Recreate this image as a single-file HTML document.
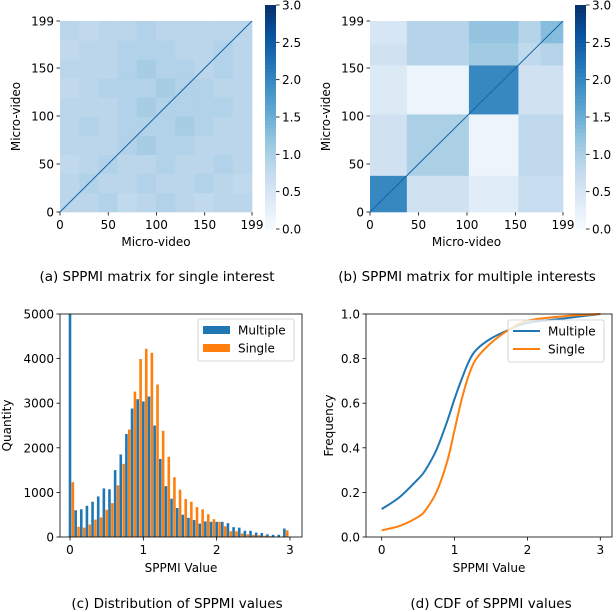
<!DOCTYPE html>
<html><head><meta charset="utf-8"><style>
body{margin:0;background:#fff}
svg{display:block;font-family:"DejaVu Sans","Liberation Sans",sans-serif}
</style></head><body>
<svg id="s" width="616" height="612" viewBox="0 0 616 612"></svg>
<script>
// ---- data ----
const heatAVals = [ // 10x10 coarse blocks, row 0 = bottom
[0.85,0.85,0.95,0.8,0.85,0.95,0.85,0.8,0.85,0.85],
[0.85,0.95,0.85,0.85,0.95,0.85,0.85,0.95,0.85,0.8],
[0.8,0.85,0.95,0.85,0.85,0.95,0.85,0.85,0.95,0.85],
[0.85,0.85,0.85,0.95,1.05,0.95,0.95,0.85,0.85,0.85],
[0.85,0.95,0.85,0.95,0.95,0.95,1.05,0.95,0.85,0.85],
[0.85,0.85,0.85,0.95,1.05,0.95,0.95,0.95,0.95,0.85],
[0.8,0.85,0.95,0.95,0.95,1.05,0.95,0.95,0.85,0.85],
[0.85,0.85,0.85,0.95,1.05,0.95,0.95,0.85,0.95,0.85],
[0.8,0.85,0.85,0.95,0.95,0.95,0.85,0.85,0.95,0.85],
[0.85,0.8,0.85,0.85,0.95,0.85,0.85,0.85,0.85,0.85]];
const heatBBounds = [0,38,102,153,176,199];
const heatBVals = [ // row = y block (bottom up), col = x block
[2.0,0.6,0.35,0.7,0.7],
[0.6,1.0,0.15,0.8,0.8],
[0.4,0.15,2.0,0.6,0.6],
[0.6,0.9,1.1,0.8,0.9],
[0.5,0.9,1.2,0.9,1.3]];
const histMultiple = [9000,600,620,700,790,910,1090,1070,1500,1850,2310,2880,3090,3040,3150,2500,1750,1140,860,650,500,430,380,300,350,340,340,340,310,220,210,140,140,100,90,60,50,50,190];
const histSingle = [1230,230,210,280,390,440,610,760,1160,1640,2410,3260,3990,4220,4130,3420,2380,1800,1340,1060,850,790,670,620,510,400,340,240,130,130,80,60,50,40,30,20,10,10,150];
const cdfX = [0,0.25,0.5,0.6,0.75,0.9,1.0,1.1,1.2,1.3,1.5,1.75,2,2.5,3];
const cdfMultiple = [0.125,0.18,0.26,0.30,0.39,0.52,0.62,0.71,0.79,0.84,0.89,0.93,0.96,0.98,1.0];
const cdfSingle = [0.03,0.05,0.09,0.12,0.20,0.34,0.48,0.62,0.73,0.80,0.87,0.93,0.97,0.99,1.0];
const heatTicks = [0,50,100,150,199];
const cbTicks = [0,0.5,1,1.5,2,2.5,3];
const histYTicks = [0,1000,2000,3000,4000,5000];
const xTicks3 = [0,1,2,3];
const cdfYTicks = [0,0.2,0.4,0.6,0.8,1.0];

const S=document.getElementById('s'),NS='http://www.w3.org/2000/svg';
function el(t,a,p){const e=document.createElementNS(NS,t);for(const k in a)e.setAttribute(k,a[k]);(p||S).appendChild(e);return e;}
function txt(x,y,s,a,p){const e=el('text',Object.assign({x:x,y:y,'font-size':12,fill:'#000'},a),p);e.textContent=s;return e;}
const stops=[[0,[247,251,255]],[0.125,[222,235,247]],[0.25,[198,219,239]],[0.375,[158,202,225]],[0.5,[107,174,214]],[0.625,[66,146,198]],[0.75,[33,113,181]],[0.875,[8,81,156]],[1,[8,48,107]]];
function blues(v){let t=Math.max(0,Math.min(1,v/3));for(let i=1;i<stops.length;i++){if(t<=stops[i][0]){const a=stops[i-1],b=stops[i],f=(t-a[0])/(b[0]-a[0]);return 'rgb('+a[1].map((c,j)=>Math.round(c+(b[1][j]-c)*f)).join(',')+')';}}return 'rgb(8,48,107)';}

function heatFrame(x0,y0,w,h,cbx,name,caption){
  const g=el('g',{});
  
  
  const sx=v=>x0+v/199*w, sy=v=>y0+h-v/199*h;
  heatTicks.forEach(t=>{
    el('line',{x1:sx(t),x2:sx(t),y1:y0+h,y2:y0+h+3.5,stroke:'#000','stroke-width':0.8},g);
    txt(sx(t),y0+h+17,String(t),{'text-anchor':'middle'},g);
    el('line',{x1:x0-3.5,x2:x0,y1:sy(t),y2:sy(t),stroke:'#000','stroke-width':0.8},g);
    txt(x0-6,sy(t)+4.5,String(t),{'text-anchor':'end'},g);
  });
  const xl=txt(x0+w/2,y0+h+34,'Micro-video',{'text-anchor':'middle'},g);
  
  const yl=txt(0,0,'Micro-video',{'text-anchor':'middle',transform:'translate('+(x0-40)+','+(y0+h/2)+') rotate(-90)'},g);
  
  const cy0=5,cy1=229,n=60;
  for(let i=0;i<n;i++){const v=(i+0.5)/n*3;const r=el('rect',{x:cbx,y:cy1-(i+1)/n*(cy1-cy0),width:11,height:(cy1-cy0)/n+0.5,fill:blues(v)},g);
    }
  cbTicks.forEach(t=>{const y=cy1-t/3*(cy1-cy0);
    el('line',{x1:cbx+11,x2:cbx+14.5,y1:y,y2:y,stroke:'#000','stroke-width':0.8},g);
    txt(cbx+17,y+4.5,t.toFixed(1),{},g);});
  const c=txt(x0+97,281,caption,{'text-anchor':'middle','font-size':13.5},g);
  
  return {g,sx,sy};
}
(function(){
  const x0=60,y0=21,w=192,h=191;
  const f=heatFrame(x0,y0,w,h,265,'heatmap-single','(a) SPPMI matrix for single interest');
  const n=heatAVals.length;
  heatAVals.forEach((row,ri)=>row.forEach((v,ci)=>{
    const r=el('rect',{x:f.sx(ci*199/n),y:f.sy((ri+1)*199/n),width:w/n+0.3,height:h/n+0.3,fill:blues(v)},f.g);
    
  }));
  const d=el('line',{x1:f.sx(0),y1:f.sy(0),x2:f.sx(199),y2:f.sy(199),stroke:blues(2.4),'stroke-width':1},f.g);
  
})();
(function(){
  const x0=370,y0=21,w=193,h=191;
  const f=heatFrame(x0,y0,w,h,575,'heatmap-multiple','(b) SPPMI matrix for multiple interests');
  heatBVals.forEach((row,ri)=>row.forEach((v,ci)=>{
    const xa=heatBBounds[ci],xb=heatBBounds[ci+1],ya=heatBBounds[ri],yb=heatBBounds[ri+1];
    const r=el('rect',{x:f.sx(xa),y:f.sy(yb),width:f.sx(xb)-f.sx(xa)+0.3,height:f.sy(ya)-f.sy(yb)+0.3,fill:blues(v)},f.g);
    
  }));
  const d=el('line',{x1:f.sx(0),y1:f.sy(0),x2:f.sx(199),y2:f.sy(199),stroke:blues(2.4),'stroke-width':1},f.g);
  
})();

function axesFrame(name){const g=el('g',{});return g;}
function legend(g,x,y,kind){
  const lg=el('g',{},g);
  
  
  el('rect',{x:x,y:y,width:96,height:42,rx:2,fill:'rgba(255,255,255,0.8)',stroke:'#ccc','stroke-width':0.8},lg);
  [['Multiple','#1f77b4'],['Single','#ff7f0e']].forEach((e,i)=>{
    const eg=el('g',{},lg);
    
    
    const yy=y+11+i*18;
    if(kind==='bar') el('rect',{x:x+5,y:yy-4,width:27,height:8,fill:e[1]},eg);
    else el('line',{x1:x+5,x2:x+32,y1:yy,y2:yy,stroke:e[1],'stroke-width':2},eg);
    txt(x+40,yy+4.5,e[0],{},eg);
  });
}
(function(){
  const L=60,R=302,T=314,B=537;
  const g=axesFrame('histogram-chart');
  const sx=v=>70+v/3*220, sy=v=>B-v/5000*(B-T);
  const nb=histMultiple.length,bw=3/nb;
  const cp=el('clipPath',{id:'cc'},g);el('rect',{x:L,y:T,width:R-L,height:B-T},cp);
  const bars=el('g',{'clip-path':'url(#cc)'},g);
  const pw=(sx(bw)-sx(0))*0.46;
  histMultiple.forEach((v,i)=>{const x=sx(i*bw)-pw/2;
    const r=el('rect',{x:x,y:sy(v),width:pw,height:B-sy(v),fill:'#1f77b4'},bars);
    });
  histSingle.forEach((v,i)=>{const x=sx(i*bw)+pw/2+0.3;
    const r=el('rect',{x:x,y:sy(v),width:pw,height:B-sy(v),fill:'#ff7f0e'},bars);
    });
  el('rect',{x:L,y:T,width:R-L,height:B-T,fill:'none',stroke:'#000','stroke-width':0.8},g);
  xTicks3.forEach(t=>{el('line',{x1:sx(t),x2:sx(t),y1:B,y2:B+3.5,stroke:'#000','stroke-width':0.8},g);txt(sx(t),B+17,String(t),{'text-anchor':'middle'},g);});
  histYTicks.forEach(t=>{el('line',{x1:L-3.5,x2:L,y1:sy(t),y2:sy(t),stroke:'#000','stroke-width':0.8},g);txt(L-6,sy(t)+4.5,String(t),{'text-anchor':'end'},g);});
  txt((L+R)/2,572,'SPPMI Value',{'text-anchor':'middle'},g);
  txt(0,0,'Quantity',{'text-anchor':'middle',transform:'translate(11,'+((T+B)/2)+') rotate(-90)'},g);
  legend(g,198,319,'bar');
  txt(177,608,'(c) Distribution of SPPMI values',{'text-anchor':'middle','font-size':13.5},g);
})();
(function(){
  const L=366,R=612,T=314,B=537;
  const g=axesFrame('cdf-chart');
  const sx=v=>381.7+v/3*218.6, sy=v=>B-v*(B-T);
  [['Multiple',cdfMultiple,'#1f77b4'],['Single',cdfSingle,'#ff7f0e']].forEach(s=>{
    const pts=cdfX.map((x,i)=>[sx(x),sy(s[1][i])]);
    let d='M'+pts[0][0]+','+pts[0][1];
    for(let i=0;i<pts.length-1;i++){const p0=pts[Math.max(0,i-1)],p1=pts[i],p2=pts[i+1],p3=pts[Math.min(pts.length-1,i+2)];
      d+=' C'+(p1[0]+(p2[0]-p0[0])/6)+','+(p1[1]+(p2[1]-p0[1])/6)+' '+(p2[0]-(p3[0]-p1[0])/6)+','+(p2[1]-(p3[1]-p1[1])/6)+' '+p2[0]+','+p2[1];}
    const p=el('path',{d:d,fill:'none',stroke:s[2],'stroke-width':2},g);
    
  });
  el('rect',{x:L,y:T,width:R-L,height:B-T,fill:'none',stroke:'#000','stroke-width':0.8},g);
  xTicks3.forEach(t=>{el('line',{x1:sx(t),x2:sx(t),y1:B,y2:B+3.5,stroke:'#000','stroke-width':0.8},g);txt(sx(t),B+17,String(t),{'text-anchor':'middle'},g);});
  cdfYTicks.forEach(t=>{el('line',{x1:L-3.5,x2:L,y1:sy(t),y2:sy(t),stroke:'#000','stroke-width':0.8},g);txt(L-6,sy(t)+4.5,t.toFixed(1),{'text-anchor':'end'},g);});
  txt((L+R)/2,572,'SPPMI Value',{'text-anchor':'middle'},g);
  txt(0,0,'Frequency',{'text-anchor':'middle',transform:'translate(333,'+((T+B)/2)+') rotate(-90)'},g);
  legend(g,508,320,'line');
  txt(491,608,'(d) CDF of SPPMI values',{'text-anchor':'middle','font-size':13.5},g);
})();
</script>
</body></html>
